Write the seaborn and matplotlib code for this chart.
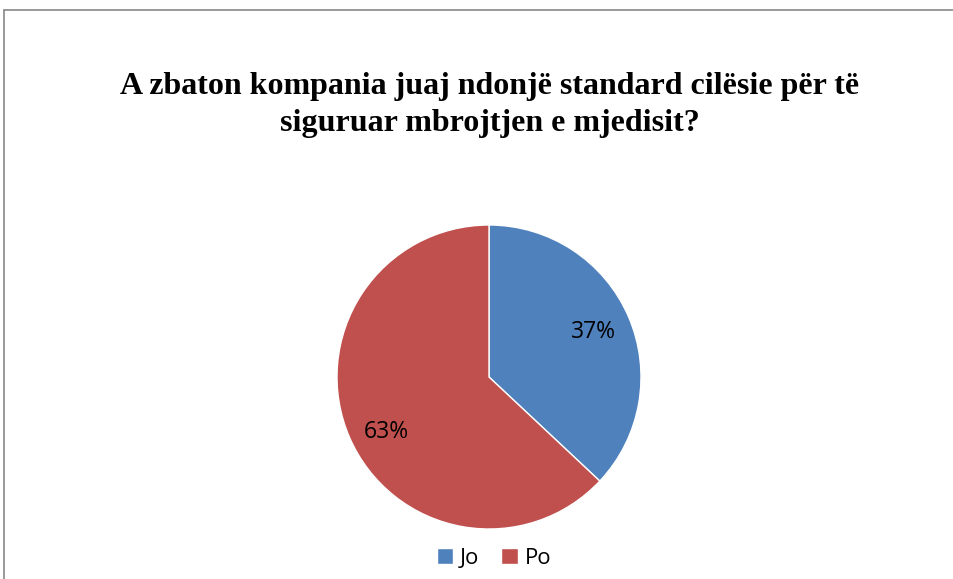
import matplotlib
matplotlib.use("Agg")
import matplotlib.pyplot as plt
from matplotlib.lines import Line2D
from matplotlib.transforms import offset_copy
import seaborn as sns

# data
labels = ["Jo", "Po"]
shares = [37, 63]
colors = ["#4F81BD", "#C0504D"]
title = "A zbaton kompania juaj ndonjë standard cilësie për të\nsiguruar mbrojtjen e mjedisit?"

sns.set_style("white")

W, H = 954, 579
fig = plt.figure(figsize=(W / 100, H / 100), dpi=100)

# pie axes: centre (489, 377) px, radius 152 px
cx, cy, r = 489, 377, 152
ax = fig.add_axes([(cx - r) / W, (H - cy - r) / H, 2 * r / W, 2 * r / H])
wedges, texts, autotexts = ax.pie(
    shares, colors=colors, startangle=90, counterclock=False,
    autopct="%1.0f%%", pctdistance=0.75,
    wedgeprops=dict(edgecolor="white", linewidth=1),
    textprops=dict(fontsize=16.5, family="Open Sans", color="black"),
)
# Excel places the larger slice label a little lower
autotexts[1].set_transform(offset_copy(ax.transData, fig=fig, x=2, y=-10, units="dots"))
ax.set_aspect("equal")
ax.set_xlim(-1, 1)
ax.set_ylim(-1, 1)
ax.axis("off")

fig.text(490 / W, 1 - 105 / H, title, ha="center", va="center",
         family="Liberation Serif", fontweight="bold", fontsize=23,
         linespacing=1.35, color="black")

fig.legend(wedges, labels, loc="center", bbox_to_anchor=(494 / W, 1 - 558 / H),
           ncol=2, frameon=False, handlelength=0.75, handleheight=0.75,
           handletextpad=0.3, columnspacing=1.0,
           prop=dict(family="Open Sans", size=16), labelcolor="black")

# chart-area border (top and left visible)
bx, by = 4.5 / W, 1 - 9.5 / H
fig.add_artist(Line2D([bx, 1], [by, by], color="#878787", lw=1.2))
fig.add_artist(Line2D([bx, bx], [0, by], color="#878787", lw=1.2))

fig.savefig("out.png", dpi=100)
